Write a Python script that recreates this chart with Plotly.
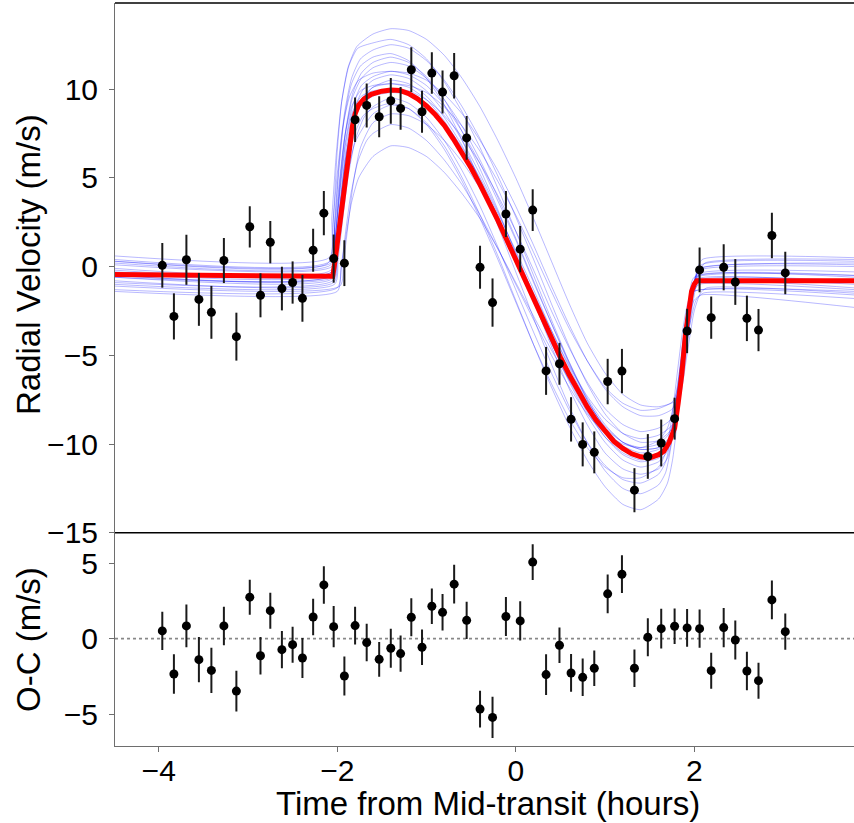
import plotly.graph_objects as go

# ---------------- data ----------------
time_h = [-3.96, -3.83, -3.69, -3.55, -3.41, -3.27, -3.13, -2.98, -2.86, -2.75,
          -2.62, -2.50, -2.39, -2.27, -2.15, -2.04, -1.92, -1.80, -1.67, -1.53,
          -1.40, -1.29, -1.17, -1.05, -0.94, -0.82, -0.69, -0.55, -0.40, -0.26,
          -0.11, 0.05, 0.19, 0.34, 0.49, 0.62, 0.75, 0.88, 1.03, 1.19,
          1.33, 1.48, 1.63, 1.78, 1.92, 2.06, 2.19, 2.33, 2.46, 2.59,
          2.72, 2.87, 3.02]

rv = [0.07, -2.81, 0.38, -1.85, -2.58, 0.34, -3.95, 2.24, -1.62, 1.37,
      -1.24, -0.90, -1.79, 0.92, 3.01, 0.45, 0.19, 8.27, 9.08, 8.44,
      9.34, 8.91, 11.09, 8.72, 10.90, 9.83, 10.75, 7.25, -0.04, -2.03,
      2.96, 0.98, 3.18, -5.88, -5.48, -8.61, -10.02, -10.47, -6.48, -5.89,
      -12.60, -10.70, -9.94, -8.57, -3.63, -0.19, -2.88, -0.04, -0.87, -2.92,
      -3.58, 1.75, -0.36]

resid = [0.51, -2.34, 0.84, -1.39, -2.10, 0.84, -3.47, 2.74, -1.13, 1.85,
         -0.73, -0.40, -1.28, 1.43, 3.55, 0.79, -2.47, 0.86, -0.26, -1.37,
         -0.64, -0.99, 1.41, -0.57, 2.14, 1.74, 3.60, 1.21, -4.66, -5.21,
         1.46, 1.17, 5.06, -2.38, -0.44, -2.27, -2.56, -1.96, 2.96, 4.26,
         -1.96, 0.09, 0.66, 0.82, 0.71, 0.66, -2.12, 0.73, -0.09, -2.14,
         -2.78, 2.56, 0.46]

err = [1.26, 1.30, 1.41, 1.49, 1.49, 1.27, 1.35, 1.16, 1.24, 1.19,
       1.23, 1.19, 1.32, 1.21, 1.24, 1.36, 1.29, 1.25, 1.24, 1.15,
       1.29, 1.20, 1.26, 1.18, 1.17, 1.21, 1.28, 1.23, 1.21, 1.36,
       1.29, 1.30, 1.18, 1.35, 1.18, 1.25, 1.24, 1.18, 1.28, 1.25,
       1.24, 1.26, 1.32, 1.18, 1.25, 1.26, 1.19, 1.30, 1.29, 1.28,
       1.19, 1.28, 1.20]

# best-fit model (red), knots
model_t = [-4.5, -3.0, -2.05, -2.02, -1.98, -1.94, -1.90, -1.86, -1.83, -1.80,
           -1.76, -1.70, -1.62, -1.50, -1.40, -1.30, -1.20, -1.10, -1.00, -0.90,
           -0.80, -0.70, -0.60, -0.50, -0.40, -0.30, -0.20, -0.10, 0.00, 0.10,
           0.20, 0.30, 0.40, 0.50, 0.60, 0.70, 0.80, 0.90, 1.00, 1.10,
           1.20, 1.30, 1.40, 1.50, 1.60, 1.66, 1.72, 1.78, 1.82, 1.86,
           1.90, 1.94, 1.97, 2.00, 2.03, 3.79]
model_v = [-0.45, -0.50, -0.55, 0.5, 2.0, 3.7, 5.4, 7.0, 7.9, 8.6,
           9.1, 9.45, 9.7, 9.88, 9.95, 9.92, 9.75, 9.45, 9.05, 8.55,
           7.95, 7.2, 6.4, 5.55, 4.62, 3.65, 2.6, 1.5, 0.4, -0.75,
           -1.9, -3.0, -4.1, -5.1, -6.1, -7.0, -7.9, -8.65, -9.3, -9.85,
           -10.25, -10.55, -10.72, -10.78, -10.6, -10.4, -9.9, -9.1, -7.7, -6.1,
           -3.9, -2.3, -1.4, -1.0, -0.8, -0.8]

# posterior draws (blue), knots
knot_grid = [-1.6, -1.4, -1.2, -1.0, -0.8, -0.6, -0.4, -0.2, 0.0, 0.2,
             0.4, 0.6, 0.8, 1.0, 1.2, 1.4, 1.6]

d01_t = [-4.5, -2.08, -2.04, -2.00, -1.95, -1.88, -1.78] + knot_grid + [1.78, 1.86, 1.92, 1.97, 2.02, 2.08, 3.79]
d01_v = [0.4, 0.3, 3.0, 6.5, 9.3, 11.2, 12.4,
         13.1, 13.4, 13.3, 12.8, 11.9, 10.6, 9.0, 7.1, 5.0, 2.7, 0.3, -2.1, -4.3, -6.0, -7.2, -7.8, -7.9,
         -7.6, -6.5, -4.5, -2.2, -0.6, 0.1, 0.3]
d02_t = [-4.5, -2.00, -1.95, -1.90, -1.84, -1.76] + knot_grid + [1.72, 1.80, 1.88, 1.95, 2.02, 2.10, 3.79]
d02_v = [-1.3, -1.2, 0.2, 1.8, 3.6, 5.0,
         6.2, 6.8, 6.7, 6.2, 5.3, 4.1, 2.7, 1.0, -0.9, -2.8, -4.7, -6.4, -7.9, -9.1, -9.9, -10.2, -10.0,
         -9.4, -8.0, -5.5, -3.3, -1.9, -1.5, -1.8]
d03_t = [-4.5, -2.05, -2.00, -1.95, -1.89, -1.80] + knot_grid + [1.70, 1.76, 1.82, 1.88, 1.94, 2.00, 2.06, 3.79]
d03_v = [-0.9, -0.8, 0.8, 2.8, 5.0, 7.0,
         8.6, 9.1, 8.9, 8.1, 6.8, 5.0, 2.9, 0.6, -1.9, -4.4, -6.8, -9.0, -10.9, -12.4, -13.4, -13.7, -13.1,
         -12.2, -10.8, -8.2, -5.0, -2.5, -1.3, -1.0, -1.3]
d04_t = [-4.5, -2.07, -2.03, -1.98, -1.92, -1.84, -1.74] + knot_grid + [1.74, 1.82, 1.88, 1.94, 2.00, 2.06, 3.79]
d04_v = [0.2, 0.1, 2.5, 5.8, 8.6, 10.6, 11.7,
         12.2, 12.5, 12.3, 11.6, 10.5, 9.0, 7.2, 5.1, 2.8, 0.4, -2.1, -4.5, -6.6, -8.3, -9.4, -9.9, -9.8,
         -9.2, -7.5, -5.0, -2.6, -0.8, -0.2, 0.0]
d05_t = [-4.5, -2.06, -2.02, -1.97, -1.91, -1.83, -1.73] + knot_grid + [1.72, 1.80, 1.87, 1.93, 1.99, 2.05, 3.79]
d05_v = [-0.2, -0.3, 1.8, 4.8, 7.5, 9.5, 10.6,
         11.2, 11.5, 11.3, 10.6, 9.4, 7.9, 6.0, 3.9, 1.6, -0.8, -3.2, -5.5, -7.5, -9.1, -10.2, -10.7, -10.5,
         -9.9, -8.2, -5.6, -3.0, -1.2, -0.5, -0.6]
d06_t = [-4.5, -2.05, -2.01, -1.96, -1.90, -1.82, -1.72] + knot_grid + [1.70, 1.77, 1.84, 1.90, 1.96, 2.02, 3.79]
d06_v = [-0.5, -0.6, 1.0, 3.5, 6.1, 8.2, 9.4,
         10.1, 10.5, 10.3, 9.6, 8.4, 6.8, 4.9, 2.8, 0.5, -1.9, -4.3, -6.5, -8.4, -9.9, -10.9, -11.3, -11.0,
         -10.4, -8.8, -6.0, -3.4, -1.6, -0.9, -1.0]
d07_t = [-4.5, -2.03, -1.99, -1.94, -1.88, -1.80, -1.70] + knot_grid + [1.68, 1.75, 1.82, 1.88, 1.94, 2.00, 3.79]
d07_v = [-1.0, -1.0, 0.4, 2.6, 5.0, 7.1, 8.4,
         9.0, 9.5, 9.2, 8.4, 7.1, 5.4, 3.4, 1.1, -1.3, -3.7, -6.0, -8.1, -9.9, -11.2, -12.0, -12.2, -11.7,
         -11.0, -9.3, -6.5, -3.9, -2.1, -1.4, -1.6]
d08_t = [-4.5, -2.09, -2.05, -2.00, -1.94, -1.86, -1.76] + knot_grid + [1.76, 1.84, 1.91, 1.97, 2.03, 2.09, 3.79]
d08_v = [0.6, 0.5, 2.4, 5.2, 7.8, 9.6, 10.5,
         10.9, 11.0, 10.9, 10.5, 9.7, 8.6, 7.1, 5.4, 3.4, 1.2, -1.1, -3.3, -5.3, -6.9, -7.9, -8.4, -8.4,
         -8.0, -6.6, -4.3, -2.0, -0.2, 0.4, 0.5]
d09_t = [-4.5, -2.00, -1.96, -1.91, -1.85, -1.77, -1.67] + knot_grid + [1.70, 1.78, 1.86, 1.93, 2.00, 2.08, 3.79]
d09_v = [-1.4, -1.4, -0.2, 1.8, 4.0, 5.9, 7.1,
         7.5, 8.0, 7.8, 7.1, 6.0, 4.6, 2.9, 1.0, -1.0, -3.0, -5.0, -6.8, -8.3, -9.4, -10.0, -10.2, -9.8,
         -9.1, -7.6, -5.1, -3.0, -1.9, -1.6, -2.3]
d10_t = [-4.5, -2.07, -2.03, -1.98, -1.92, -1.84, -1.74] + knot_grid + [1.68, 1.75, 1.82, 1.88, 1.94, 2.00, 3.79]
d10_v = [-0.1, -0.2, 2.2, 5.5, 8.4, 10.3, 11.3,
         11.8, 12.0, 11.6, 10.6, 9.1, 7.1, 4.8, 2.3, -0.3, -2.9, -5.5, -7.9, -9.9, -11.5, -12.5, -12.8, -12.3,
         -11.6, -9.8, -6.8, -4.0, -1.9, -0.6, -0.5]
d11_t = [-4.5, -2.06, -2.02, -1.97, -1.91, -1.83, -1.73] + knot_grid + [1.74, 1.82, 1.89, 1.95, 2.01, 2.07, 3.79]
d11_v = [0.1, 0.0, 1.7, 4.2, 6.8, 8.7, 9.6,
         9.9, 10.0, 9.9, 9.4, 8.5, 7.3, 5.8, 4.0, 2.0, -0.2, -2.5, -4.6, -6.5, -8.0, -8.9, -9.3, -9.1,
         -8.6, -7.0, -4.6, -2.3, -0.6, -0.1, 0.2]
d12_t = [-4.5, -2.04, -2.00, -1.95, -1.89, -1.81, -1.71] + knot_grid + [1.67, 1.74, 1.81, 1.87, 1.93, 1.99, 3.79]
d12_v = [-0.8, -0.9, 0.7, 3.0, 5.4, 7.4, 8.5,
         8.9, 9.2, 8.9, 8.0, 6.6, 4.8, 2.7, 0.4, -2.0, -4.4, -6.6, -8.6, -10.2, -11.3, -11.9, -11.9, -11.3,
         -10.6, -8.8, -6.0, -3.6, -2.0, -1.4, -1.4]
d13_t = [-4.5, -2.05, -2.01, -1.96, -1.90, -1.82, -1.72] + knot_grid + [1.71, 1.78, 1.85, 1.91, 1.97, 2.03, 3.79]
d13_v = [-0.4, -0.4, 1.4, 4.0, 6.7, 8.7, 9.9,
         10.5, 10.8, 10.6, 9.9, 8.7, 7.1, 5.2, 3.1, 0.8, -1.6, -4.0, -6.2, -8.1, -9.6, -10.6, -11.0, -10.8,
         -10.2, -8.6, -5.8, -3.2, -1.3, -0.6, -0.5]
d14_t = [-4.5, -2.06, -2.02, -1.97, -1.91, -1.83, -1.73] + knot_grid + [1.73, 1.81, 1.88, 1.94, 2.00, 2.06, 3.79]
d14_v = [-0.6, -0.7, 0.9, 3.4, 6.0, 8.0, 9.1,
         9.6, 9.8, 9.7, 9.1, 8.1, 6.7, 5.0, 3.0, 0.9, -1.3, -3.6, -5.7, -7.6, -9.0, -9.9, -10.3, -10.2,
         -9.6, -7.9, -5.3, -2.9, -1.4, -0.9, -1.2]
d15_t = [-4.5, -2.10, -2.06, -2.01, -1.95, -1.87, -1.77] + knot_grid + [1.74, 1.82, 1.89, 1.95, 2.01, 2.07, 3.79]
d15_v = [0.3, 0.2, 2.8, 6.4, 9.3, 11.3, 12.3,
         12.6, 12.8, 12.5, 11.7, 10.4, 8.7, 6.7, 4.4, 2.0, -0.5, -3.0, -5.4, -7.5, -9.1, -10.1, -10.5, -10.3,
         -9.7, -8.0, -5.3, -2.7, -0.8, -0.1, 0.1]
d16_t = [-4.5, -1.97, -1.93, -1.88, -1.82, -1.74] + knot_grid + [1.76, 1.85, 1.93, 2.00, 2.07, 2.14, 3.79]
d16_v = [-1.1, -1.1, 0.2, 2.3, 4.7, 6.7,
         8.1, 8.6, 8.5, 8.0, 7.1, 5.9, 4.4, 2.6, 0.6, -1.5, -3.6, -5.6, -7.3, -8.6, -9.4, -9.7, -9.5,
         -8.9, -7.2, -4.6, -2.5, -1.5, -1.2, -1.5]
d17_t = [-4.5, -2.07, -2.03, -1.98, -1.92, -1.84, -1.74] + knot_grid + [1.76, 1.85, 1.93, 2.00, 2.06, 2.12, 3.79]
d17_v = [0.3, 0.2, 2.0, 4.6, 7.2, 9.0, 9.9,
         10.2, 10.3, 10.2, 9.8, 9.0, 7.9, 6.5, 4.8, 2.9, 0.8, -1.4, -3.5, -5.3, -6.8, -7.7, -8.1, -8.0,
         -7.6, -6.2, -3.9, -1.6, -0.3, 0.2, 0.4]
d18_t = [-4.5, -2.06, -2.02, -1.97, -1.91, -1.83, -1.73] + knot_grid + [1.70, 1.77, 1.84, 1.90, 1.96, 2.02, 3.79]
d18_v = [-0.5, -0.5, 1.6, 4.6, 7.5, 9.7, 10.9,
         11.5, 11.8, 11.5, 10.7, 9.4, 7.6, 5.5, 3.2, 0.7, -1.9, -4.5, -6.9, -8.9, -10.5, -11.4, -11.7, -11.4,
         -10.8, -9.1, -6.2, -3.5, -1.6, -0.8, -0.8]
d19_t = [-4.5, -2.05, -2.01, -1.96, -1.90, -1.82, -1.72] + knot_grid + [1.71, 1.78, 1.85, 1.91, 1.97, 2.03, 3.79]
d19_v = [-0.6, -0.5, 1.2, 3.7, 6.3, 8.3, 9.5,
         10.1, 10.3, 10.1, 9.4, 8.2, 6.6, 4.7, 2.6, 0.3, -2.0, -4.3, -6.4, -8.2, -9.6, -10.5, -10.9, -10.7,
         -10.1, -8.5, -5.7, -3.1, -1.4, -0.7, -0.9]
d20_t = [-4.5, -2.06, -2.02, -1.97, -1.91, -1.83, -1.73] + knot_grid + [1.73, 1.80, 1.87, 1.93, 1.99, 2.05, 3.79]
d20_v = [-0.3, -0.3, 1.6, 4.3, 7.0, 9.0, 10.2,
         10.7, 11.0, 10.8, 10.2, 9.1, 7.6, 5.8, 3.7, 1.5, -0.9, -3.2, -5.4, -7.4, -8.9, -9.9, -10.3, -10.2,
         -9.6, -8.0, -5.3, -2.8, -1.0, -0.4, -0.3]

draws = [(d01_t, d01_v), (d02_t, d02_v), (d03_t, d03_v), (d04_t, d04_v), (d05_t, d05_v),
         (d06_t, d06_v), (d07_t, d07_v), (d08_t, d08_v), (d09_t, d09_v), (d10_t, d10_v),
         (d11_t, d11_v), (d12_t, d12_v), (d13_t, d13_v), (d14_t, d14_v), (d15_t, d15_v),
         (d16_t, d16_v), (d17_t, d17_v), (d18_t, d18_v), (d19_t, d19_v), (d20_t, d20_v)]

top_ticks = [-15, -10, -5, 0, 5, 10]
res_ticks = [-5, 0, 5]
x_ticks = [-4, -2, 0, 2]

def lab(v):
    return ("\u2212" + str(abs(v))) if v < 0 else str(v)

# ---------------- figure ----------------
FONT = "Liberation Sans, Arial, sans-serif"
TFS = 30   # tick labels
LFS = 33   # axis titles
AXC = "#6e6e6e"
split = 0.287

fig = go.Figure()

for i, (tt, vv) in enumerate(draws):
    assert len(tt) == len(vv), i
    fig.add_trace(go.Scatter(x=tt, y=vv, mode="lines", xaxis="x", yaxis="y",
                             line=dict(color="rgba(0,0,255,0.28)", width=1, shape="spline", smoothing=0.6),
                             hoverinfo="skip", showlegend=False))

fig.add_trace(go.Scatter(x=model_t, y=model_v, mode="lines", xaxis="x", yaxis="y",
                         line=dict(color="#ff0000", width=5), showlegend=False))

fig.add_trace(go.Scatter(x=time_h, y=rv, mode="markers", xaxis="x", yaxis="y",
                         marker=dict(color="black", size=9),
                         error_y=dict(type="data", array=err, visible=True, thickness=2, width=0, color="#1a1a1a"),
                         showlegend=False))

fig.add_trace(go.Scatter(x=time_h, y=resid, mode="markers", xaxis="x2", yaxis="y2",
                         marker=dict(color="black", size=9),
                         error_y=dict(type="data", array=err, visible=True, thickness=2, width=0, color="#1a1a1a"),
                         showlegend=False))

xr = [-4.49, 3.79]
tickfont = dict(family=FONT, size=TFS, color="black")

fig.update_layout(
    width=854, height=823,
    margin=dict(l=115, r=0, t=3, b=77),
    paper_bgcolor="white", plot_bgcolor="white",
    font=dict(family=FONT, size=TFS, color="black"),
    xaxis=dict(domain=[0, 1], range=xr, anchor="y", showticklabels=False, ticks="",
               showgrid=False, zeroline=False, showline=False),
    yaxis=dict(domain=[split, 1], range=[-15, 14.85], anchor="x",
               tickvals=top_ticks, ticktext=[lab(v) for v in top_ticks], tickfont=tickfont,
               ticks="outside", ticklen=5, tickwidth=1, tickcolor=AXC, ticklabelstandoff=5,
               showline=True, linecolor=AXC, linewidth=1,
               showgrid=False, zeroline=False),
    xaxis2=dict(domain=[0, 1], range=xr, anchor="y2",
                tickvals=x_ticks, ticktext=[lab(v) for v in x_ticks], tickfont=tickfont,
                ticks="outside", ticklen=5, tickwidth=1, tickcolor=AXC, ticklabelstandoff=-7,
                showline=True, linecolor=AXC, linewidth=1,
                showgrid=False, zeroline=False),
    yaxis2=dict(domain=[0, split], range=[-7.1, 7.0], anchor="x2",
                tickvals=res_ticks, ticktext=[lab(v) for v in res_ticks], tickfont=tickfont,
                ticks="outside", ticklen=5, tickwidth=1, tickcolor=AXC, ticklabelstandoff=5,
                showline=True, linecolor=AXC, linewidth=1,
                showgrid=False, zeroline=False),
    shapes=[
        dict(type="line", xref="paper", yref="paper", x0=0, x1=1, y0=1, y1=1,
             line=dict(color="black", width=1.5)),
        dict(type="line", xref="paper", yref="paper", x0=0, x1=1, y0=split, y1=split,
             line=dict(color="black", width=1.5)),
        dict(type="line", xref="paper", yref="y2", x0=0, x1=1, y0=0, y1=0,
             line=dict(color="#888888", width=1.6, dash="dot"), layer="below"),
    ],
    annotations=[
        dict(text="Radial Velocity (m/s)", xref="paper", yref="paper",
             x=(28 - 115) / 739, y=(746 - 265) / 743, textangle=-90, showarrow=False,
             xanchor="center", yanchor="middle", font=dict(family=FONT, size=LFS, color="black")),
        dict(text="O-C (m/s)", xref="paper", yref="paper",
             x=(28 - 115) / 739, y=(746 - 640) / 743, textangle=-90, showarrow=False,
             xanchor="center", yanchor="middle", font=dict(family=FONT, size=LFS, color="black")),
        dict(text="Time from Mid-transit (hours)", xref="paper", yref="paper",
             x=(488 - 115) / 739, y=(746 - 803) / 743, showarrow=False,
             xanchor="center", yanchor="middle", font=dict(family=FONT, size=LFS, color="black")),
    ],
)

fig.write_html("out.html", config={"displayModeBar": False},
               post_script="document.body.style.margin='0';document.body.style.overflow='hidden';")
